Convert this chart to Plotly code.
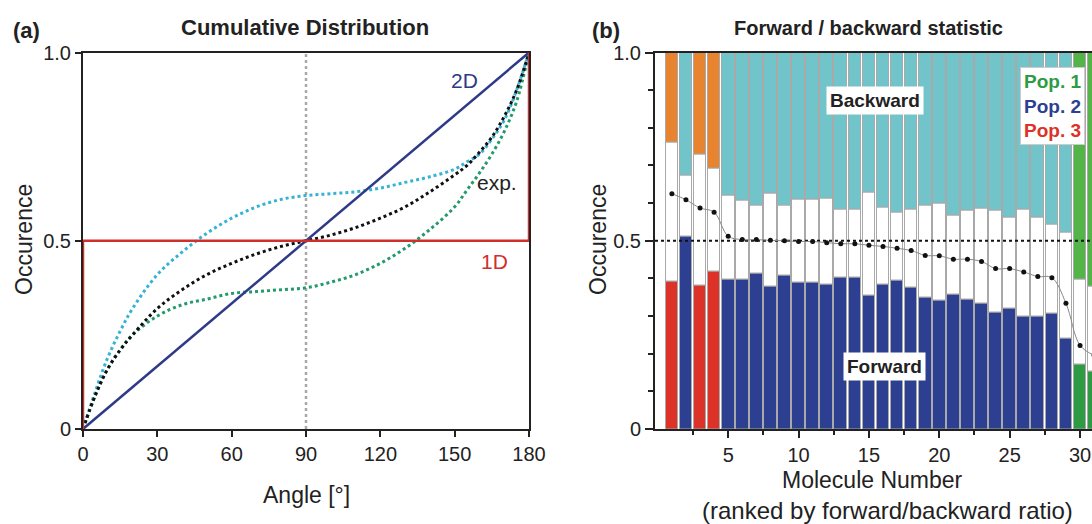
import plotly.graph_objects as go

# ---------------- Panel (a): cumulative distributions ----------------
angles = [0, 5, 10, 15, 20, 30, 40, 50, 60, 70, 80, 90, 100, 110, 120, 130, 140, 150, 155, 160, 165, 170, 175, 180]
cdf_cyan = [0, 0.10, 0.19, 0.26, 0.32, 0.41, 0.47, 0.52, 0.56, 0.59, 0.61, 0.62, 0.625, 0.63, 0.64, 0.655, 0.67, 0.69, 0.71, 0.73, 0.77, 0.82, 0.90, 1.0]
cdf_exp = [0, 0.09, 0.16, 0.21, 0.25, 0.32, 0.37, 0.41, 0.44, 0.465, 0.485, 0.50, 0.515, 0.535, 0.56, 0.59, 0.63, 0.675, 0.70, 0.735, 0.775, 0.83, 0.90, 1.0]
cdf_green = [0, 0.09, 0.16, 0.21, 0.25, 0.30, 0.33, 0.345, 0.36, 0.365, 0.37, 0.375, 0.39, 0.41, 0.44, 0.48, 0.53, 0.59, 0.635, 0.68, 0.73, 0.79, 0.87, 1.0]
line2d_x = [0, 180]
line2d_y = [0, 1]
line1d_x = [0, 0, 180, 180]
line1d_y = [0, 0.5, 0.5, 1.0]
mid_x = [90, 90]
mid_y = [0, 1]

# ---------------- Panel (b): forward / backward statistic ----------------
molecules = list(range(1, 32))
population = [3, 2, 3, 3, 2, 2, 2, 2, 2, 2, 2, 2, 2, 2, 2, 2, 2, 2, 2, 2, 2, 2, 2, 2, 2, 2, 2, 2, 2, 1, 1]
forward = [0.392, 0.511, 0.380, 0.418, 0.398, 0.396, 0.412, 0.378, 0.407, 0.390, 0.390, 0.385, 0.402, 0.402,
           0.354, 0.385, 0.394, 0.377, 0.348, 0.340, 0.356, 0.343, 0.334, 0.310, 0.321, 0.299, 0.299, 0.308,
           0.240, 0.172, 0.152]
backward = [0.238, 0.327, 0.271, 0.309, 0.379, 0.394, 0.407, 0.375, 0.406, 0.391, 0.391, 0.387, 0.418, 0.418,
            0.373, 0.413, 0.425, 0.418, 0.407, 0.402, 0.433, 0.419, 0.415, 0.419, 0.437, 0.418, 0.438, 0.456,
            0.478, 0.602, 0.622]
ratio = [0.625, 0.609, 0.587, 0.576, 0.512, 0.503, 0.503, 0.501, 0.500, 0.498, 0.498, 0.495, 0.492, 0.492,
         0.488, 0.485, 0.480, 0.474, 0.461, 0.460, 0.451, 0.451, 0.445, 0.426, 0.426, 0.417, 0.405, 0.402,
         0.334, 0.222, 0.196]

fwd_colors = {1: "#2f9a44", 2: "#2c3f90", 3: "#dc3228"}
bwd_colors = {1: "#53b548", 2: "#72c4cb", 3: "#e8832f"}

FONT = "Liberation Sans, Arial, sans-serif"
TXT = "#222222"

fig = go.Figure()

# panel (a) traces
fig.add_trace(go.Scatter(x=mid_x, y=mid_y, mode="lines", line=dict(color="#a8a8a8", width=2.5, dash="dot"),
                         xaxis="x", yaxis="y", showlegend=False, hoverinfo="skip"))
fig.add_trace(go.Scatter(x=angles, y=cdf_cyan, mode="lines", line=dict(color="#36b2d6", width=3, dash="dot", shape="spline"),
                         xaxis="x", yaxis="y", showlegend=False))
fig.add_trace(go.Scatter(x=angles, y=cdf_green, mode="lines", line=dict(color="#239a6b", width=3, dash="dot", shape="spline"),
                         xaxis="x", yaxis="y", showlegend=False))
fig.add_trace(go.Scatter(x=angles, y=cdf_exp, mode="lines", line=dict(color="#111111", width=3, dash="dot", shape="spline"),
                         xaxis="x", yaxis="y", showlegend=False))
fig.add_trace(go.Scatter(x=line2d_x, y=line2d_y, mode="lines", line=dict(color="#2e3a88", width=2.5),
                         xaxis="x", yaxis="y", showlegend=False))
fig.add_trace(go.Scatter(x=line1d_x, y=line1d_y, mode="lines", line=dict(color="#d0302c", width=2.5),
                         xaxis="x", yaxis="y", showlegend=False, cliponaxis=False))

# panel (b) bars
upper_base = [1 - b for b in backward]
middle = [u - f for u, f in zip(upper_base, forward)]
bar_line = dict(color="#a9a9a9", width=1)
fig.add_trace(go.Bar(x=molecules, y=forward, base=0, width=0.9,
                     marker=dict(color=[fwd_colors[p] for p in population], line=bar_line),
                     xaxis="x2", yaxis="y2", showlegend=False))
fig.add_trace(go.Bar(x=molecules, y=middle, base=forward, width=0.9,
                     marker=dict(color="#ffffff", line=bar_line),
                     xaxis="x2", yaxis="y2", showlegend=False))
fig.add_trace(go.Bar(x=molecules, y=backward, base=upper_base, width=0.9,
                     marker=dict(color=[bwd_colors[p] for p in population], line=bar_line),
                     xaxis="x2", yaxis="y2", showlegend=False))
fig.add_trace(go.Scatter(x=[-0.2, 31], y=[0.5, 0.5], mode="lines", line=dict(color="#111111", width=2, dash="dot"),
                         xaxis="x2", yaxis="y2", showlegend=False, hoverinfo="skip"))
fig.add_trace(go.Scatter(x=molecules, y=ratio, mode="lines+markers",
                         line=dict(color="#8a8a8a", width=1, shape="spline"),
                         marker=dict(color="#111111", size=5),
                         xaxis="x2", yaxis="y2", showlegend=False))

W, H = 1092, 524
def px(x):
    return x / W
def py(y):
    return 1 - y / H

axis_common = dict(showgrid=False, zeroline=False, showline=True, linecolor=TXT, linewidth=2, automargin=False,
                   ticks="outside", tickcolor=TXT, tickwidth=2, tickfont=dict(family=FONT, size=20, color=TXT))

fig.update_layout(
    template="none",
    width=W, height=H,
    margin=dict(l=0, r=0, t=0, b=0, autoexpand=False),
    paper_bgcolor="white", plot_bgcolor="white",
    barmode="overlay", bargap=0,
    font=dict(family=FONT, color=TXT),
    xaxis=dict(domain=[px(83), px(529)], range=[0, 180], tickvals=[0, 30, 60, 90, 120, 150, 180],
               ticklen=6, mirror=True, anchor="y", layer="below traces", **axis_common),
    yaxis=dict(domain=[py(429), py(52.5)], range=[0, 1], tickvals=[0, 0.5, 1.0], ticktext=["0", "0.5", "1.0"],
               ticklen=6, mirror=True, anchor="x", layer="below traces", **axis_common),
    xaxis2=dict(domain=[px(655), 1.0], range=[-0.2, 30.85], tickvals=[5, 10, 15, 20, 25, 30], ticklen=7,
                mirror=True, anchor="y2",
                minor=dict(tickvals=[2.5, 7.5, 12.5, 17.5, 22.5, 27.5], ticks="outside", ticklen=4, tickwidth=1.5, tickcolor=TXT),
                **axis_common),
    yaxis2=dict(domain=[py(429), py(52.5)], range=[0, 1], tickvals=[0, 0.5, 1.0], ticktext=["0", "0.5", "1.0"],
                ticklen=8, anchor="x2",
                minor=dict(tickvals=[0.1, 0.2, 0.3, 0.4, 0.6, 0.7, 0.8, 0.9], ticks="outside", ticklen=5, tickwidth=1.5, tickcolor=TXT),
                **axis_common),
)

def ann(text, x, y, size=20, color=TXT, bold=False, angle=0, xref="paper", yref="paper", **kw):
    t = f"<b>{text}</b>" if bold else text
    fig.add_annotation(text=t, x=x, y=y, xref=xref, yref=yref, showarrow=False, textangle=angle,
                       font=dict(family=FONT, size=size, color=color), xanchor="center", yanchor="middle", **kw)

# titles and labels
ann("(a)", px(26), py(30), size=22, bold=True)
ann("Cumulative Distribution", px(305), py(28), size=22, bold=True)
ann("(b)", px(606), py(30), size=22, bold=True)
ann("Forward / backward statistic", px(868), py(28), size=20, bold=True)
ann("Occurence", px(24), py(240), size=23, angle=-90)
ann("Angle [°]", px(306), py(495), size=23)
ann("Occurence", px(598), py(240), size=23, angle=-90)
ann("Molecule Number", px(872), py(480), size=23)
ann("(ranked by forward/backward ratio)", px(887), py(510), size=24)

# in-plot labels panel (a)
ann("2D", 154, 0.925, size=21, color="#2e3a88", xref="x", yref="y")
ann("exp.", 167, 0.655, size=21, color=TXT, xref="x", yref="y")
ann("1D", 166, 0.445, size=21, color="#d0302c", xref="x", yref="y")

# in-plot labels panel (b)
ann("Backward", px(875), py(101), size=19, bold=True, bgcolor="white", borderpad=3)
ann("Forward", px(884), py(366), size=19, bold=True, bgcolor="white", borderpad=3)
ann("<span style='color:#2f9a44'>Pop. 1</span><br><span style='color:#2c3f90'>Pop. 2</span><br><span style='color:#dc3228'>Pop. 3</span>",
    px(1052), py(106), size=19, bold=True, bgcolor="white", bordercolor="#cccccc", borderwidth=1, borderpad=3)

fig.write_html("out.html", config={"displayModeBar": False},
               post_script="document.body.style.margin='0px';document.body.style.padding='0px';")
